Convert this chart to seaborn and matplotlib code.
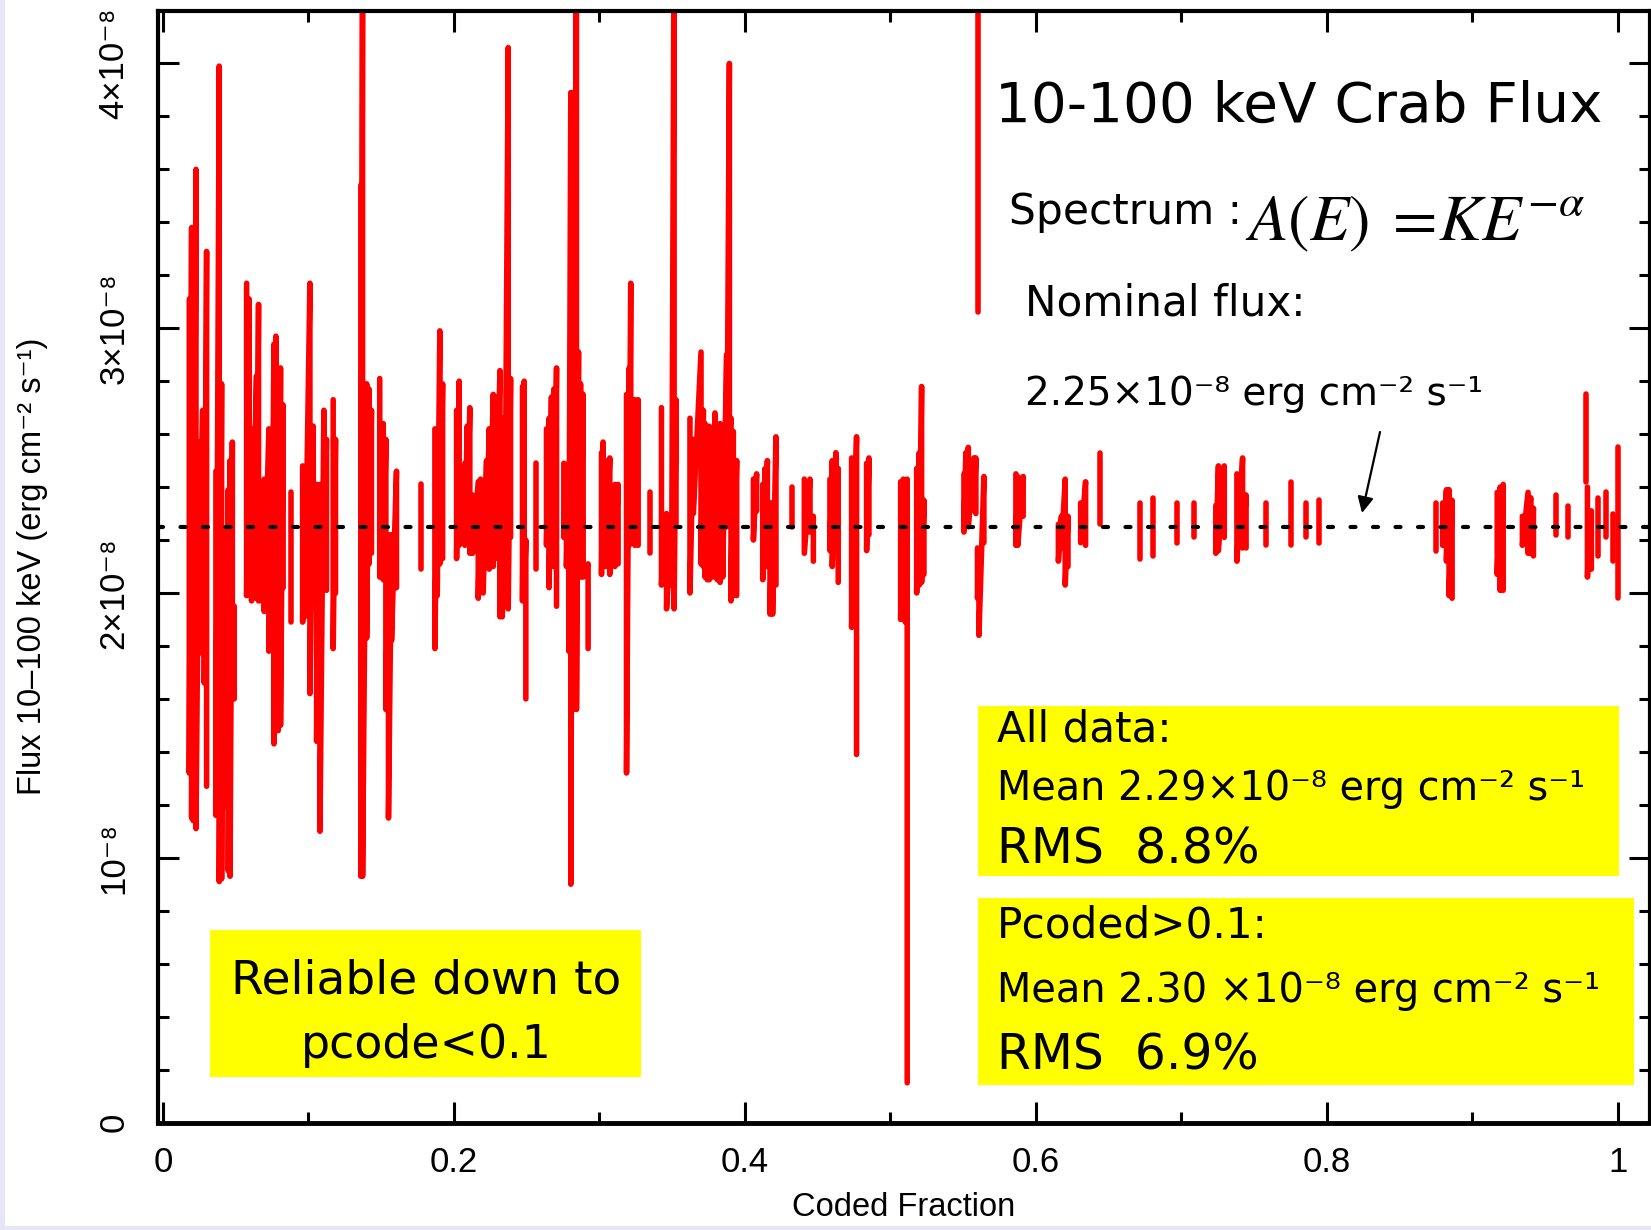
import numpy as np
import pandas as pd
import matplotlib
matplotlib.use("Agg")
import matplotlib.pyplot as plt
import seaborn as sns
from matplotlib.patches import Rectangle

# ---------------- data (flux in units of 1e-8 erg cm^-2 s^-1) ----------------
# each stroke: coded fraction, upper flux, lower flux, run (connected group)
stroke_cf = [
    0.0181, 0.0197, 0.0208, 0.0227, 0.0250, 0.0273, 0.0284, 0.0300,
    0.0364, 0.0387, 0.0403, 0.0415, 0.0433, 0.0449, 0.0461, 0.0477, 0.0490,
    0.0575, 0.0593, 0.0609, 0.0643, 0.0657, 0.0678, 0.0696, 0.0728, 0.0747, 0.0763, 0.0776, 0.0792, 0.0808, 0.0826,
    0.0877,
    0.0960, 0.0975, 0.1010, 0.1033, 0.1056, 0.1079, 0.1106, 0.1124,
    0.1170, 0.1186,
    0.1360, 0.1372, 0.1400, 0.1417, 0.1433,
    0.1490, 0.1514, 0.1532, 0.1550, 0.1571, 0.1605,
    0.1771,
    0.1869, 0.1885, 0.1903, 0.1922,
    0.2018, 0.2036, 0.2075, 0.2091, 0.2109, 0.2128, 0.2167, 0.2183, 0.2201, 0.2224, 0.2242, 0.2270, 0.2288, 0.2316, 0.2332, 0.2350, 0.2373, 0.2389,
    0.2471, 0.2483, 0.2494,
    0.2567,
    0.2636, 0.2654, 0.2670, 0.2686, 0.2705,
    0.2755, 0.2773, 0.2789, 0.2803, 0.2819, 0.2842, 0.2856, 0.2870, 0.2888, 0.2922,
    0.3014, 0.3025, 0.3044, 0.3071, 0.3106, 0.3128,
    0.3186, 0.3204, 0.3215, 0.3243, 0.3266,
    0.3346,
    0.3426, 0.3461, 0.3496, 0.3513, 0.3526,
    0.3622, 0.3645, 0.3698, 0.3714, 0.3725, 0.3741, 0.3755, 0.3771, 0.3794, 0.3810, 0.3829, 0.3847, 0.3874, 0.3893, 0.3904, 0.3920, 0.3943,
    0.4058, 0.4080,
    0.4122, 0.4138, 0.4154, 0.4172, 0.4190, 0.4213,
    0.4321,
    0.4408, 0.4447, 0.4470,
    0.4584, 0.4600, 0.4625, 0.4641,
    0.4733, 0.4767,
    0.4836, 0.4852,
    0.5070, 0.5088, 0.5102, 0.5115,
    0.5180, 0.5198, 0.5214, 0.5230,
    0.5505, 0.5518, 0.5535, 0.5573, 0.5587,
    0.5600,
    0.5598, 0.5608, 0.5642,
    0.5862, 0.5875, 0.5912,
    0.6154, 0.6175, 0.6201, 0.6220,
    0.6307, 0.6341,
    0.6438,
    0.6715, 0.6802, 0.6970, 0.7089,
    0.7236, 0.7254, 0.7294,
    0.7381, 0.7420, 0.7444,
    0.7584, 0.7750, 0.7855, 0.7947,
    0.8747,
    0.8795, 0.8821, 0.8839, 0.8860,
    0.9170, 0.9190, 0.9211,
    0.9343, 0.9382, 0.9400, 0.9419,
    0.9572, 0.9659, 0.9783,
    0.9790, 0.9817,
    0.9861, 0.9919, 0.9967, 1.0001,
]
stroke_hi = [
    3.11, 3.38, 3.14, 3.60, 2.57, 2.69, 2.53, 3.29,
    2.46, 3.99, 2.79, 2.23, 2.23, 2.39, 2.50, 2.57, 1.95,
    3.17, 3.11, 2.62, 2.82, 3.09, 2.42, 2.43, 2.62, 2.61, 2.94, 2.97, 2.74, 2.85, 2.71,
    2.38,
    2.48, 2.47, 3.17, 2.63, 2.41, 2.41, 2.69, 2.58,
    2.73, 2.58,
    3.54, 4.50, 2.79, 2.77, 2.69,
    2.81, 2.64, 2.58, 2.22, 2.22, 2.46,
    2.41,
    2.62, 2.53, 2.99, 2.79,
    2.69, 2.80, 2.49, 2.63, 2.70, 2.37, 2.42, 2.43, 2.39, 2.50, 2.62, 2.75, 2.74, 2.84, 2.66, 2.55, 4.06, 2.81,
    2.78, 2.80, 2.20,
    2.49,
    2.62, 2.66, 2.74, 2.77, 2.85,
    2.49, 2.47, 2.49, 3.89, 3.89, 4.50, 2.91, 2.79, 2.75, 2.11,
    2.53, 2.57, 2.50, 2.51, 2.41, 2.41,
    2.75, 2.85, 3.17, 2.73, 2.73,
    2.38,
    2.70, 2.30, 2.26, 4.50, 2.73,
    2.66, 2.58, 2.91, 2.69, 2.64, 2.55, 2.63, 2.52, 2.68, 2.53, 2.64, 2.55, 2.90, 4.00, 2.66, 2.61, 2.50,
    2.43, 2.45,
    2.41, 2.47, 2.50, 2.34, 2.34, 2.59,
    2.40,
    2.43, 2.43, 2.29,
    2.43, 2.50, 2.53, 2.47,
    2.51, 2.59,
    2.49, 2.51,
    2.42, 2.43, 2.42, 2.43,
    2.47, 2.53, 2.78, 2.35,
    2.45, 2.53, 2.55, 2.51, 2.51,
    4.50,
    2.17, 2.05, 2.44,
    2.45, 2.44, 2.44,
    2.26, 2.29, 2.43, 2.29,
    2.34, 2.42,
    2.53,
    2.34, 2.36, 2.34, 2.34,
    2.33, 2.48, 2.48,
    2.45, 2.51, 2.37,
    2.34, 2.42, 2.34, 2.35,
    2.34,
    2.34, 2.39, 2.39, 2.35,
    2.38, 2.40, 2.41,
    2.29, 2.38, 2.36, 2.32,
    2.37, 2.33, 2.75,
    2.40, 2.31,
    2.36, 2.38, 2.30, 2.55,
]
stroke_lo = [
    1.32, 1.15, 1.14, 1.11, 2.05, 1.77, 1.66, 1.27,
    1.16, 0.91, 0.92, 1.19, 1.20, 0.95, 0.93, 1.60, 1.60,
    1.99, 2.02, 1.97, 1.98, 1.97, 1.97, 1.93, 1.78, 1.85, 1.43, 1.84, 1.48, 1.50, 2.02,
    1.89,
    1.89, 1.91, 1.62, 2.03, 1.44, 1.10, 2.13, 2.01,
    1.79, 2.00,
    0.93, 0.93, 1.83, 2.11, 2.15,
    2.06, 2.05, 1.56, 1.15, 1.82, 2.02,
    2.09,
    1.79, 1.99, 2.11, 2.13,
    2.13, 2.18, 2.18, 2.26, 2.15, 2.15, 1.98, 2.17, 2.00, 2.18, 2.09, 2.10, 2.13, 1.91, 1.91, 2.10, 1.94, 2.21,
    1.97, 2.02, 1.60,
    2.09,
    2.18, 2.02, 2.13, 2.10, 1.95,
    2.21, 2.10, 1.78, 0.90, 1.56, 1.56, 2.07, 2.06, 2.06, 1.79,
    2.07, 2.13, 2.10, 2.07, 2.10, 2.11,
    1.32, 2.18, 2.21, 2.18, 2.18,
    2.15,
    2.03, 1.94, 2.03, 1.94, 2.26,
    2.00, 2.30, 2.11, 2.10, 2.06, 2.05, 2.05, 2.06, 2.06, 2.05, 2.04, 2.06, 2.25, 2.60, 1.97, 1.99, 1.99,
    2.20, 2.31,
    2.05, 2.10, 2.10, 1.92, 1.92, 2.03,
    2.25,
    2.15, 2.23, 2.12,
    2.16, 2.10, 2.17, 2.04,
    1.87, 1.39,
    2.16, 2.22,
    1.90, 1.91, 1.89, 0.15,
    2.00, 2.03, 2.04, 2.07,
    2.23, 2.26, 2.25, 2.31, 2.30,
    3.06,
    1.98, 1.84, 2.19,
    2.18, 2.18, 2.29,
    2.12, 2.17, 2.03, 2.10,
    2.19, 2.18,
    2.26,
    2.13, 2.14, 2.19, 2.21,
    2.15, 2.16, 2.21,
    2.12, 2.17, 2.17,
    2.18, 2.18, 2.21, 2.19,
    2.16,
    2.18, 2.12, 1.99, 1.98,
    2.07, 2.01, 2.01,
    2.18, 2.15, 2.15, 2.14,
    2.22, 2.21, 2.42,
    2.06, 2.09,
    2.14, 2.21, 2.12, 1.98,
]
stroke_run = (
    [1] * 8 + [2] * 9 + [3] * 14 + [4] + [5] * 8 + [6] * 2 + [7] * 5 + [8] * 6 + [9]
    + [10] * 4 + [11] * 18 + [12] * 3 + [13] + [14] * 5 + [15] * 10 + [16] * 6
    + [17] * 5 + [18] + [19] * 5 + [20] * 17 + [21] * 2 + [22] * 6 + [23] + [24] * 3
    + [25] * 4 + [26] * 2 + [27] * 2 + [28] * 4 + [29] * 4 + [30] * 5 + [31]
    + [32] * 3 + [33] * 3 + [34] * 4 + [35] * 2 + [36] + [37, 38, 39, 40]
    + [41] * 3 + [42] * 3 + [43, 44, 45, 46] + [47] + [48] * 4 + [49] * 3
    + [50] * 4 + [51, 52, 53] + [54] * 2 + [55, 56, 57, 58]
)

nominal_flux = 2.25
x_ticks = [0.0, 0.2, 0.4, 0.6, 0.8, 1.0]
x_tick_labels = ["0", "0.2", "0.4", "0.6", "0.8", "1"]
y_ticks = [0, 1, 2, 3, 4]
y_tick_labels = ["0", "10\u207b\u2078", "2\u00d710\u207b\u2078", "3\u00d710\u207b\u2078", "4\u00d710\u207b\u2078"]

rows = []
for c, h, l, r in zip(stroke_cf, stroke_hi, stroke_lo, stroke_run):
    rows.append((c, h, r))
    rows.append((c, l, r))
df = pd.DataFrame(rows, columns=["cf", "flux", "run"])

# ---------------- figure ----------------
W, H = 1651, 1230
sns.set_style("ticks")
plt.rcParams["font.family"] = ["Liberation Sans", "DejaVu Sans"]
plt.rcParams["text.color"] = "black"
plt.rcParams["axes.labelcolor"] = "black"
plt.rcParams["xtick.color"] = "black"
plt.rcParams["ytick.color"] = "black"
plt.rcParams["axes.edgecolor"] = "black"

fig = plt.figure(figsize=(W / 100, H / 100), dpi=100)
fig.patch.set_facecolor("white")
ax = fig.add_axes([158 / W, 1 - 1122.5 / H, (1650 - 158) / W, (1122.5 - 10.5) / H])

sns.lineplot(data=df, x="cf", y="flux", units="run", estimator=None, sort=False,
             color="#ff0000", lw=4.0, ax=ax, legend=False,
             solid_capstyle="round", solid_joinstyle="round")

ax.axhline(nominal_flux, color="black", lw=3.0, dashes=(1.2, 4.2),
           dash_capstyle="round", zorder=5)

ax.set_xlim(-0.0034, 1.022)
ax.set_ylim(0, 4.2)

ax.set_xticks(x_ticks)
ax.set_xticklabels(x_tick_labels, fontsize=25, color="black")
ax.set_xticks([0.1, 0.3, 0.5, 0.7, 0.9], minor=True)
ax.set_yticks(y_ticks)
ax.set_yticklabels(y_tick_labels, fontsize=25, rotation=90, va="center", color="black")
ax.set_yticks([v / 5 for v in range(1, 21) if v % 5 != 0], minor=True)

ax.tick_params(which="both", direction="in", top=True, right=True, color="black", width=2.2)
ax.tick_params(which="major", length=15)
ax.tick_params(which="minor", length=8)
ax.tick_params(axis="x", which="major", pad=17)
ax.tick_params(axis="y", which="major", pad=20)
for sp in ax.spines.values():
    sp.set_linewidth(3)
    sp.set_color("black")
ax.spines["bottom"].set_linewidth(3.5)

ax.set_xlabel("Coded Fraction", fontsize=23.5, va="center", color="black")
ax.xaxis.set_label_coords(0.5, (1122.5 - 1207) / 1112)
ax.set_ylabel("Flux 10\u2013100 keV (erg cm\u207b\u00b2 s\u207b\u00b9)", fontsize=23.5,
              va="center", color="black")
ax.yaxis.set_label_coords((33 - 158) / (1650 - 158), 0.5)

# ---------------- annotations ----------------
renderer = fig.canvas.get_renderer()


def place(s, x, base, width, family="DejaVu Sans", ha="left", **kw):
    t = fig.text(x / W, 1 - base / H, s, ha=ha, va="baseline", family=family,
                 fontsize=30, zorder=6, color="black", **kw)
    for _ in range(3):
        w = t.get_window_extent(renderer).width
        t.set_fontsize(t.get_fontsize() * width / w)
    return t


def box(x0, y0, x1, y1):
    fig.add_artist(Rectangle((x0 / W, 1 - y1 / H), (x1 - x0) / W, (y1 - y0) / H,
                             transform=fig.transFigure, facecolor="#ffff00",
                             edgecolor="none", zorder=4))


# slide background strips
fig.add_artist(Rectangle((0, 0), 5 / W, 1, transform=fig.transFigure,
                         facecolor="#e6e6f8", edgecolor="none", zorder=0.5))
fig.add_artist(Rectangle((0, 0), 1, 4 / H, transform=fig.transFigure,
                         facecolor="#e6e6f8", edgecolor="none", zorder=0.5))

place("10-100 keV Crab Flux", 995, 122, 608)
place("Spectrum :", 1009, 224, 233)
place(r"$A(E)\;=\!KE^{-\alpha}$", 1245, 240, 340, math_fontfamily="stix")
place("Nominal flux:", 1025, 316, 279)
place("2.25\u00d710\u207b\u2078 erg cm\u207b\u00b2 s\u207b\u00b9", 1025, 405, 458)

ax.annotate("", xy=(1362, H - 513), xycoords="figure pixels",
            xytext=(1380, H - 432), textcoords="figure pixels",
            arrowprops=dict(arrowstyle="-|>", color="black", lw=1.6,
                            mutation_scale=24, shrinkA=0, shrinkB=0))

box(978, 706, 1619, 876)
place("All data:", 997, 742, 174)
place("Mean 2.29\u00d710\u207b\u2078 erg cm\u207b\u00b2 s\u207b\u00b9", 997, 800, 588)
place("RMS  8.8%", 997, 863, 262)

box(978, 898, 1634, 1085)
place("Pcoded>0.1:", 997, 937, 270)
place("Mean 2.30 \u00d710\u207b\u2078 erg cm\u207b\u00b2 s\u207b\u00b9", 997, 1002, 603)
place("RMS  6.9%", 997, 1069, 262)

box(210, 930, 641, 1077)
place("Reliable down to", 426, 994, 390, ha="center")
place("pcode<0.1", 426, 1058, 251, ha="center")

fig.savefig("out.png", dpi=100)
